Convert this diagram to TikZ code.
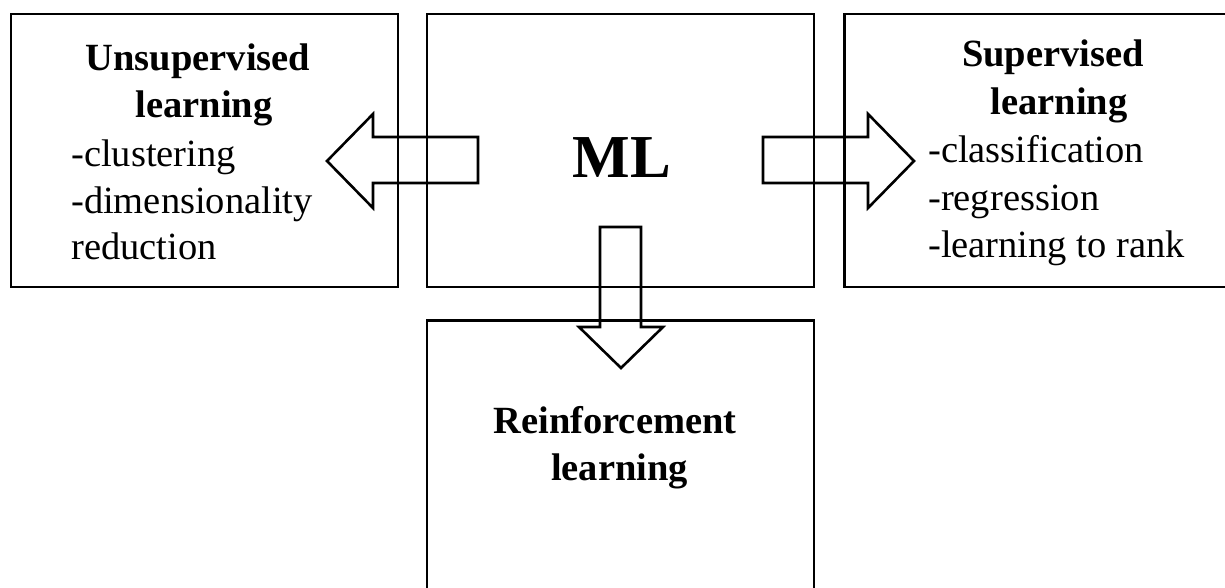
\documentclass[tikz,border=0pt]{standalone}
\usepackage{fontspec}
\setmainfont{Liberation Serif}
\begin{document}
\begin{tikzpicture}[x=1pt,y=-1pt,
  box/.style={draw=black, line width=2.6pt, inner sep=0pt, fill=none},
  blockarrow/.style={draw=black, line width=2.6pt, line join=miter, fill=none},
  head/.style={inner sep=0pt, anchor=base, font=\fontsize{38.5}{46.5}\selectfont\bfseries},
  item/.style={inner sep=0pt, anchor=base west, font=\fontsize{38.5}{46.5}\selectfont}]
\useasboundingbox (0,0) rectangle (1225,588);
\clip (0,0) rectangle (1225,588);
% boxes
\node[box, minimum width=387pt, minimum height=273pt] (unsup) at (204.5,150.5) {};
\node[box, minimum width=387pt, minimum height=273pt] (ml) at (620.5,150.5) {};
\node[box, minimum width=400pt, minimum height=273pt, anchor=west] (sup) at (843,150.5) {};
\node[box, minimum width=387pt, minimum height=300pt, anchor=north] (rl) at (620.5,319) {};
% texts
\node[head] (unsupA) at (198,71) {Unsupervised};
\node[head] (unsupB) at (204,118) {learning};
\node[item] (unsup1) at (71,167) {-clustering};
\node[item] (unsup2) at (71,213) {-dimensionality};
\node[item] (unsup3) at (71,259) {reduction};
\node[head] (supA) at (1053,67) {Supervised};
\node[head] (supB) at (1059,115) {learning};
\node[item] (sup1) at (928,163) {-classification};
\node[item] (sup2) at (928,210) {-regression};
\node[item] (sup3) at (928,257) {-learning to rank};
\node[inner sep=0pt, anchor=base, font=\fontsize{61}{70}\selectfont\bfseries] (mltext) at (622,178) {ML};
\node[head] (rlA) at (615,433) {Reinforcement};
\node[head] (rlB) at (619.5,480) {learning};
% block arrows
\draw[blockarrow] (478,137) -- (373,137) -- (373,114) -- (327,161) -- (373,208) -- (373,183) -- (478,183) -- cycle;
\draw[blockarrow] (763,137) -- (868,137) -- (868,114) -- (914,161) -- (868,208) -- (868,183) -- (763,183) -- cycle;
\draw[blockarrow] (600,227) -- (641,227) -- (641,327) -- (663,327) -- (621,368) -- (579,327) -- (600,327) -- cycle;
\end{tikzpicture}
\end{document}
